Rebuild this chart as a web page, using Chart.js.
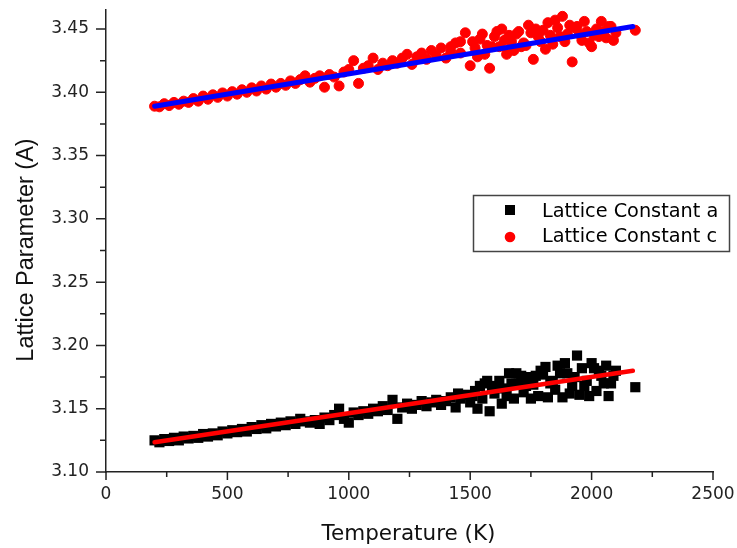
<!DOCTYPE html>
<html><head><meta charset="utf-8">
<script src="https://cdn.jsdelivr.net/npm/chart.js@4"></script>
<style>html,body{margin:0;padding:0;background:#fff;}#wrap{width:737px;height:548px;}</style>
</head><body><div id="wrap"><canvas id="c" width="737" height="548"></canvas></div>
<script>
// ---- data ----
const tempA = [
  200,220,240,260,280,300,320,340,360,380,
  400,420,440,460,480,500,520,540,560,580,
  600,620,640,660,680,700,720,740,760,780,
  800,820,840,860,880,900,920,940,960,980,
  1000,1020,1040,1060,1080,1100,1120,1140,1160,1180,
  1200,1220,1240,1260,1280,1300,1320,1340,1360,1380,
  1400,1420,1440,1460,1480,1500,1520,1540,1560,1580,
  1600,1620,1640,1660,1680,1700,1720,1740,1760,1780,
  1800,1820,1840,1860,1880,1900,1920,1940,1960,1980,
  2000,2020,2040,2060,2080,2100,2180,
  1510,1550,1590,1630,1670,1710,1750,1790,1830,1870,
  1910,1950,1990,2030,2070,
  1450,1530,1570,1610,1650,1690,1730,1770,1810,1850,
  1890,1930,1970,2010,2050,2090
];
const latticeA = [
  3.125,3.1235,3.126,3.1245,3.127,3.125,3.128,3.1265,3.1285,3.127,
  3.130,3.128,3.1305,3.129,3.132,3.1305,3.133,3.1315,3.134,3.132,
  3.1355,3.134,3.137,3.1345,3.138,3.136,3.139,3.137,3.140,3.138,
  3.142,3.140,3.139,3.141,3.138,3.143,3.141,3.145,3.150,3.142,
  3.139,3.147,3.145,3.148,3.146,3.150,3.148,3.152,3.149,3.157,
  3.142,3.151,3.154,3.150,3.153,3.156,3.152,3.155,3.157,3.153,
  3.156,3.159,3.151,3.158,3.161,3.155,3.164,3.168,3.170,3.148,
  3.162,3.172,3.166,3.178,3.158,3.170,3.163,3.175,3.169,3.160,
  3.177,3.159,3.172,3.184,3.159,3.178,3.168,3.192,3.182,3.172,
  3.186,3.164,3.176,3.184,3.170,3.180,3.167,
  3.160,3.158,3.166,3.154,3.170,3.176,3.158,3.180,3.170,3.178,
  3.162,3.161,3.160,3.180,3.160,
  3.162,3.150,3.172,3.168,3.160,3.178,3.168,3.176,3.183,3.165,
  3.186,3.175,3.168,3.182,3.170,3.176
];
const tempC = [
  200,220,240,260,280,300,320,340,360,380,
  400,420,440,460,480,500,520,540,560,580,
  600,620,640,660,680,700,720,740,760,780,
  800,820,840,860,880,900,920,940,960,980,
  1000,1020,1040,1060,1080,1100,1120,1140,1160,1180,
  1200,1220,1240,1260,1280,1300,1320,1340,1360,1380,
  1400,1420,1440,1460,1480,1500,1520,1540,1560,1580,
  1600,1620,1640,1660,1680,1700,1720,1740,1760,1780,
  1800,1820,1840,1860,1880,1900,1920,1940,1960,1980,
  2000,2020,2040,2060,2080,2100,2180,
  1510,1550,1590,1630,1670,1710,1750,1790,1830,1870,
  1910,1950,1990,2030,2070,
  1420,1460,1530,1570,1610,1650,1690,1730,1770,1810,
  1850,1890,1930,1970,2010,2050,2090
];
const latticeC = [
  3.389,3.3885,3.391,3.3895,3.392,3.3905,3.393,3.392,3.395,3.393,
  3.397,3.3945,3.398,3.396,3.3995,3.397,3.4005,3.3985,3.402,3.400,
  3.4035,3.401,3.405,3.4025,3.4065,3.404,3.407,3.4055,3.409,3.407,
  3.410,3.413,3.408,3.411,3.413,3.404,3.414,3.412,3.405,3.416,
  3.418,3.425,3.407,3.419,3.421,3.427,3.418,3.423,3.421,3.425,
  3.423,3.427,3.430,3.422,3.428,3.431,3.426,3.433,3.429,3.435,
  3.427,3.436,3.439,3.431,3.447,3.421,3.435,3.442,3.430,3.419,
  3.444,3.436,3.441,3.445,3.433,3.448,3.439,3.453,3.426,3.444,
  3.449,3.455,3.438,3.451,3.460,3.446,3.424,3.452,3.441,3.448,
  3.436,3.450,3.456,3.443,3.452,3.447,3.449,
  3.440,3.446,3.436,3.450,3.440,3.436,3.447,3.440,3.445,3.444,
  3.453,3.446,3.439,3.444,3.452,
  3.432,3.440,3.428,3.437,3.448,3.430,3.446,3.437,3.450,3.434,
  3.457,3.440,3.451,3.456,3.445,3.448,3.441
];
const fitTemp = [200, 2170];
const fitA = [3.1235, 3.180];
const fitC = [3.389, 3.452];
const xTicks = [0, 500, 1000, 1500, 2000, 2500];
const xMinorTicks = [250, 750, 1250, 1750, 2250];
const yTicks = [3.10, 3.15, 3.20, 3.25, 3.30, 3.35, 3.40, 3.45];
const yMinorTicks = [3.125, 3.175, 3.225, 3.275, 3.325, 3.375, 3.425];
const legendLabels = ['Lattice Constant a', 'Lattice Constant c'];
const xTitle = 'Temperature (K)';
const yTitle = 'Lattice Parameter (A)';

function pts(xs, ys) { return xs.map((x, i) => ({ x: x, y: ys[i] })); }

const decor = {
  id: 'decor',
  afterDraw(chart) {
    const ctx = chart.ctx, sx = chart.scales.x, sy = chart.scales.y;
    ctx.save();
    ctx.strokeStyle = '#222';
    ctx.lineWidth = 1.5;
    ctx.beginPath();
    yTicks.forEach(v => { const p = sy.getPixelForValue(v); ctx.moveTo(sx.left - 10, p); ctx.lineTo(sx.left, p); });
    yMinorTicks.forEach(v => { const p = sy.getPixelForValue(v); ctx.moveTo(sx.left - 6, p); ctx.lineTo(sx.left, p); });
    xTicks.forEach(v => { const p = sx.getPixelForValue(v); ctx.moveTo(p, sy.bottom); ctx.lineTo(p, sy.bottom + 8); });
    xMinorTicks.forEach(v => { const p = sx.getPixelForValue(v); ctx.moveTo(p, sy.bottom); ctx.lineTo(p, sy.bottom + 5); });
    ctx.stroke();

    // axis titles
    ctx.fillStyle = '#111';
    ctx.font = '21.5px "DejaVu Sans"';
    ctx.textAlign = 'center';
    ctx.textBaseline = 'alphabetic';
    ctx.fillText(xTitle, (sx.left + sx.right) / 2 - 1, 540);
    ctx.save();
    ctx.translate(33, 250);
    ctx.rotate(-Math.PI / 2);
    ctx.font = '23.5px "Liberation Sans"';
    ctx.fillText(yTitle, 0, 0);
    ctx.restore();

    // legend
    ctx.lineWidth = 1.5;
    ctx.strokeStyle = '#444';
    ctx.fillStyle = '#fff';
    ctx.fillRect(473.5, 195.5, 256, 56);
    ctx.strokeRect(473.5, 195.5, 256, 56);
    ctx.fillStyle = '#000';
    ctx.fillRect(505, 205, 10, 10);
    ctx.fillStyle = '#ff0000';
    ctx.beginPath(); ctx.arc(510, 237, 5.3, 0, Math.PI * 2); ctx.fill();
    ctx.fillStyle = '#000';
    ctx.font = '19.3px "DejaVu Sans"';
    ctx.textAlign = 'left';
    ctx.fillText(legendLabels[0], 542, 216.5);
    ctx.fillText(legendLabels[1], 542, 241.5);
    ctx.restore();
  }
};

new Chart(document.getElementById('c'), {
  type: 'scatter',
  data: {
    datasets: [
      { label: 'fit c', data: pts(fitTemp, fitC), showLine: true, borderColor: '#0000ff', borderWidth: 5, borderCapStyle: 'round', pointRadius: 0, order: 0 },
      { label: 'fit a', data: pts(fitTemp, fitA), showLine: true, borderColor: '#ff0000', borderWidth: 4.5, borderCapStyle: 'round', pointRadius: 0, order: 0 },
      { label: legendLabels[0], data: pts(tempA, latticeA), pointStyle: 'rect', pointRadius: 7.2, backgroundColor: '#000', borderColor: '#000', borderWidth: 0, order: 1 },
      { label: legendLabels[1], data: pts(tempC, latticeC), pointStyle: 'circle', pointRadius: 5, backgroundColor: '#ff0000', borderColor: '#ff0000', borderWidth: 1, order: 1 }
    ]
  },
  options: {
    responsive: false,
    animation: false,
    devicePixelRatio: 1,
    layout: { padding: { left: 0, right: 24, top: 10, bottom: 0 } },
    plugins: { legend: { display: false }, tooltip: { enabled: false } },
    scales: {
      x: {
        type: 'linear', min: 0, max: 2500,
        afterBuildTicks: s => { s.ticks = xTicks.map(v => ({ value: v })); },
        afterFit: s => { s.height = 76; s.paddingLeft = 0; s.paddingRight = 0; },
        grid: { display: false, drawTicks: false },
        border: { display: true, color: '#222', width: 1.5 },
        ticks: { color: '#222', font: { family: '"DejaVu Sans"', size: 17 }, padding: 12, maxRotation: 0, callback: v => String(v) }
      },
      y: {
        type: 'linear', min: 3.10, max: 3.465,
        afterBuildTicks: s => { s.ticks = yTicks.map(v => ({ value: v })); },
        afterFit: s => { s.width = 106; s.paddingTop = 0; s.paddingBottom = 0; },
        grid: { display: false, drawTicks: false },
        border: { display: true, color: '#222', width: 1.5 },
        ticks: { color: '#222', font: { family: '"DejaVu Sans"', size: 17 }, padding: 17, callback: v => v.toFixed(2) }
      }
    }
  },
  plugins: [decor]
});
</script>
</body></html>
